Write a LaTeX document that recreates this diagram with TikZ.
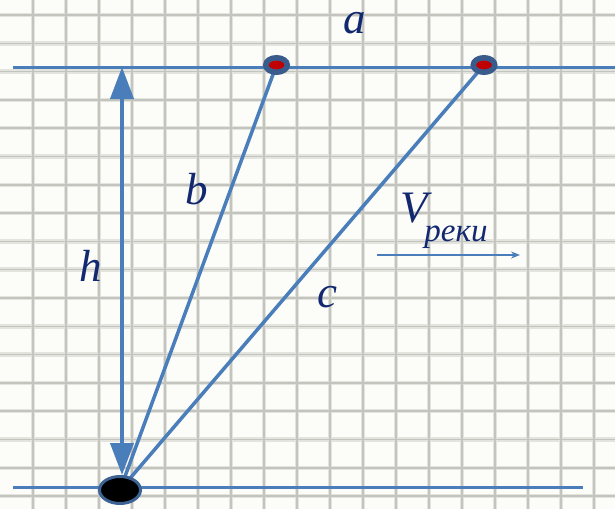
\documentclass[tikz,border=0pt]{standalone}
\usepackage{fontspec}
\setmainfont{Liberation Serif}
\definecolor{paperbg}{RGB}{252,252,248}
\definecolor{gridsoft}{RGB}{228,228,222}
\definecolor{gridgray}{RGB}{196,196,190}
\definecolor{lineblue}{RGB}{74,126,187}
\definecolor{dotblue}{RGB}{58,92,140}
\definecolor{dotred}{RGB}{192,0,0}
\definecolor{textnavy}{RGB}{18,40,112}
\usetikzlibrary{arrows.meta,positioning,shapes.geometric,calc}

\begin{document}
\begin{tikzpicture}[x=1pt,y=-1pt,
  gridhalo/.style={gridsoft, line width=4.5pt},
  gridline/.style={gridgray, line width=1.5pt},
  bank/.style={lineblue, line width=3pt},
  path/.style={lineblue, line width=3.5pt},
  topdot/.style={ellipse, draw=dotblue, fill=dotred, line width=5.5pt, minimum width=21.5pt, minimum height=14.5pt, inner sep=0pt},
  boat/.style={ellipse, draw=dotblue!80!lineblue, fill=black, line width=3pt, minimum width=41pt, minimum height=27pt, inner sep=0pt},
  lbl/.style={text=textnavy, font=\fontsize{45}{50}\selectfont\itshape, inner sep=0pt}]
  % Paper and grid
  \useasboundingbox (0,0) rectangle (615,509);
  \fill[paperbg] (0,0) rectangle (615,509);
  \foreach \i in {1,...,18}
    \draw[gridhalo] (33*\i,0) -- (33*\i,509);
  \foreach \j in {0,...,17}
    \draw[gridhalo] (0,15+28.3*\j) -- (615,15+28.3*\j);
  \foreach \i in {1,...,18}
    \draw[gridline] (33*\i,0) -- (33*\i,509);
  \foreach \j in {0,...,17}
    \draw[gridline] (0,15+28.3*\j) -- (615,15+28.3*\j);

  % River banks
  \coordinate (TL) at (13,67);
  \coordinate (TR) at (615,67);
  \coordinate (BL) at (13,487);
  \coordinate (BR) at (583,487);
  \draw[bank] (TL) -- (TR);
  \draw[bank] (BL) -- (BR);

  % Points
  \coordinate (Oc) at (120,490);
  \coordinate (P1c) at (276.5,65);
  \coordinate (P2c) at (484,65);
  \draw[path] (Oc) -- (P1c);
  \draw[path] (Oc) -- (P2c);
  \node[topdot] (P1) at (P1c) {};
  \node[topdot] (P2) at (P2c) {};
  \node[boat] (O) at (Oc) {};

  % Width h
  \coordinate (hT) at (122,67);
  \draw[lineblue, line width=4pt, {Triangle[length=32pt,width=23pt]}-{Triangle[length=32pt,width=23pt]}] (hT) -- (hT |- O.north);

  % Labels
  \node[lbl, anchor=base] (la) at (355,33) {a};
  \node[lbl] (lb) at (197,189) {b};
  \node[lbl] (lh) at (91,266) {h};
  \node[lbl] (lc) at (327,297) {c};
  \node[lbl] (lv) at (414,208) {V};
  \node[text=textnavy, font=\fontsize{33}{36}\selectfont\itshape, inner sep=0pt] (lvsub) at (456,237) {реки};

  % River flow
  \coordinate (vs) at (377,255);
  \coordinate (ve) at (520,255);
  \draw[lineblue, line width=1.5pt, -{Stealth[length=9pt,width=7pt]}] (vs) -- (ve);
\end{tikzpicture}
\end{document}
